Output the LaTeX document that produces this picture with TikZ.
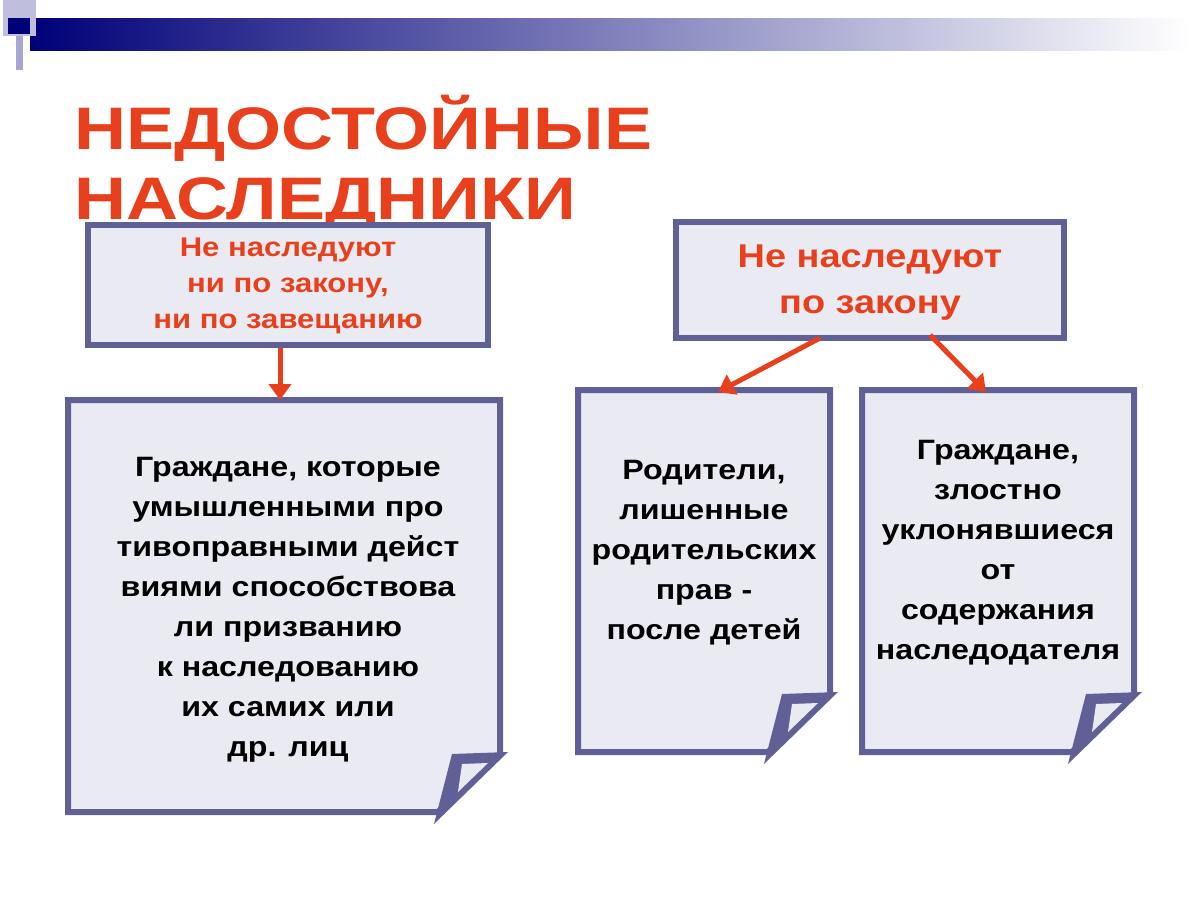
\documentclass[tikz,border=0pt]{standalone}
\usepackage{fontspec}
\setmainfont{Liberation Sans}
\definecolor{frame}{RGB}{96,96,150}
\definecolor{paper}{RGB}{234,234,242}
\definecolor{titlered}{RGB}{232,64,28}
\definecolor{navy}{RGB}{0,0,120}
\tikzset{
  boxline/.style={draw=frame,line width=6pt,fill=paper,line join=miter},
  redtext/.style={text=titlered,xscale=1.15,font=\bfseries\fontsize{27}{36}\selectfont,align=center},
  blacktext/.style={text=black,xscale=1.15,font=\bfseries\fontsize{28}{40}\selectfont,align=center},
  redarrow/.style={draw=titlered,line width=5pt,-{Triangle[length=16pt,width=22pt]}}
}
\usetikzlibrary{arrows.meta}
% box with folded lower right corner
\newcommand{\foldbox}[4]{%
  \draw[boxline] (#1,#2) -- (#3,#2) -- (#3,#4-58) -- (#3-62,#4) -- (#1,#4) -- cycle;%
  \fill[frame] (#3-48,#4-58) -- (#3+8,#4-60) -- (#3-66,#4+12) -- cycle;%
  \fill[paper] (#3-38,#4-48) -- (#3-12,#4-49) -- (#3-42,#4-20) -- cycle;%
}
\begin{document}
\begin{tikzpicture}[x=1pt,y=-1pt]
\useasboundingbox[fill=white] (0,0) rectangle (1200,900);
% header band
\shade[left color=navy,right color=white] (30,18) rectangle (1190,50);
\fill[navy!25] (3,0) rectangle (36,36);
\fill[navy] (8,18) rectangle (30,34);
\fill[navy!35] (16,36) rectangle (23,70);
% title
\node[anchor=west,xscale=1.2,text=titlered,font=\bfseries\fontsize{60}{60}\selectfont] (title1) at (70,128) {НЕДОСТОЙНЫЕ};
\node[anchor=west,xscale=1.2,text=titlered,font=\bfseries\fontsize{60}{60}\selectfont] (title2) at (70,205) {НАСЛЕДНИКИ};
% top boxes
\draw[boxline] (88,225) rectangle (488,345);
\node[redtext] (bothno) at (288,286) {Не наследуют\\ни по закону,\\ни по завещанию};
\draw[boxline] (676,222) rectangle (1064,338);
\node[redtext,font=\bfseries\fontsize{33}{46}\selectfont] (lawno) at (870,283) {Не наследуют\\по закону};
% lower boxes
\foldbox{68}{400}{500}{812}
\node[blacktext] (unworthy) at (288,610) {Граждане, которые\\умышленными про\\тивоправными дейст\\виями способствова\\ли призванию\\к наследованию\\их самих или\\др. лиц};
\foldbox{578}{390}{830}{752}
\node[blacktext] (parents) at (704,553) {Родители,\\лишенные\\родительских\\прав -\\после детей};
\foldbox{862}{390}{1134}{752}
\node[blacktext] (evaders) at (998,553) {Граждане,\\злостно\\уклонявшиеся\\от\\содержания\\наследодателя};
% arrows
\coordinate (a1) at (280,348);
\coordinate (a1e) at (280,400);
\draw[redarrow] (a1) -- (a1e);
\coordinate (a2) at (820,338);
\coordinate (a2e) at (718,392);
\draw[redarrow] (a2) -- (a2e);
\coordinate (a3) at (930,335);
\coordinate (a3e) at (986,392);
\draw[redarrow] (a3) -- (a3e);
\end{tikzpicture}
\end{document}
